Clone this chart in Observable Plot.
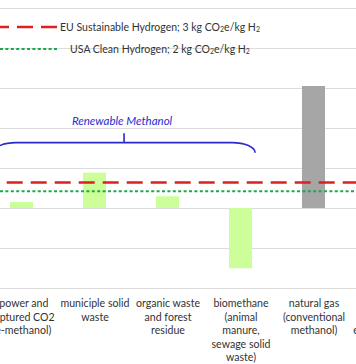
<!DOCTYPE html>
<html><head><meta charset="utf-8">
<script src="https://cdn.jsdelivr.net/npm/d3@7"></script>
<script src="https://cdn.jsdelivr.net/npm/@observablehq/plot@0.6"></script>
<style>
body{margin:0;background:#fff;}
#wrap{position:relative;width:356px;height:364px;overflow:hidden;font-family:Lato,sans-serif;}
#legend{position:absolute;left:0;top:0;width:356px;height:70px;pointer-events:none;}
.legtext{position:absolute;left:160px;transform:translate(-50%,-50%);white-space:nowrap;font-size:10.5px;color:#333;}
.legtext sub{font-size:7px;vertical-align:-1px;line-height:0;}
</style></head><body>
<div id="wrap"><div id="chart"></div><div id="legend"></div></div>
<script>
// categories (the 6th is only partly visible at the right edge)
const categories = ["e-methanol", "municipal", "organic", "biomethane", "natural gas", "grid"];
const tickLabels = [
  "wind power and" + "\u00a0".repeat(8) + "\ncaptured CO2\n(e-methanol)",
  "municiple solid\nwaste",
  "organic waste\nand forest\nresidue",
  "biomethane\n(animal\nmanure,\nsewage solid\nwaste)",
  "natural gas\n(conventional\nmethanol)",
  "grid power\n(electrolysis,\nelectricity mix)"
];
// emissions (axis units hidden by the crop)
const barCategories = ["e-methanol", "municipal", "organic", "biomethane", "natural gas"];
const barValues = [4.5, 26.5, 8.8, -45.2, 91.5];
const barGroups = ["renewable", "renewable", "renewable", "renewable", "fossil"];
const yTicks = [-60, -30, 0, 30, 60, 90, 120, 150];
const euThreshold = [19.5];
const usaThreshold = [13];
const legendLabels = [
  "EU Sustainable Hydrogen; 3 kg CO<sub>2</sub>e/kg H<sub>2</sub>",
  "USA Clean Hydrogen; 2 kg CO<sub>2</sub>e/kg H<sub>2</sub>"
];
const braceLabel = "Renewable Methanol";
const braceLevel = 49, braceEnd = 41.5, braceTop = 56, braceLabelLevel = 64.5;

const data = barCategories.map((c, i) => ({category: c, value: barValues[i], group: barGroups[i]}));
const labelOf = new Map(categories.map((c, i) => [c, tickLabels[i]]));

const RED = "#dd2020", GREEN = "#1fa84a", BLUE = "#2b2bcc";

function brace(index, scales) {
  const x = scales.x, y = scales.y;
  const bw = x.bandwidth ? x.bandwidth() : 0;
  const step = x.step ? x.step() : 0;
  const L = x(categories[0]) + bw / 2 - 0.39 * step;
  const R = x(categories[3]) + bw / 2 + 0.2 * step;
  const mid = (L + R) / 2;
  const yH = y(braceLevel), yE = y(braceEnd), yT = y(braceTop);
  const rx = 23, ry = yE - yH;
  const g = d3.create("svg:g");
  g.append("path")
    .attr("d", `M${L},${yE}A${rx},${ry} 0 0 1 ${L + rx},${yH}H${R - rx}A${rx},${ry} 0 0 1 ${R},${yE}M${mid},${yH}V${yT}`)
    .attr("fill", "none").attr("stroke", BLUE).attr("stroke-width", 1.6);
  g.append("text")
    .attr("x", mid - 2).attr("y", y(braceLabelLevel))
    .attr("text-anchor", "middle").attr("dominant-baseline", "middle")
    .attr("font-style", "italic").attr("font-size", 11.5).attr("fill", BLUE)
    .text(braceLabel);
  return g.node();
}

const chart = Plot.plot({
  width: 356, height: 364,
  marginLeft: 0, marginRight: 0, marginTop: 8, marginBottom: 76,
  style: {fontFamily: "Lato, sans-serif", fontSize: "10.5px", color: "#333", background: "transparent"},
  x: {domain: categories, range: [-40.1, 448.6], padding: 0.685, label: null},
  y: {domain: [-60, 150], label: null},
  color: {domain: ["renewable", "fossil"], range: ["#ccff99", "#a6a6a6"]},
  marks: [
    Plot.gridY(yTicks, {stroke: "#dcdcdc", strokeOpacity: 1, strokeWidth: 1}),
    Plot.barY(data, {x: "category", y: "value", fill: "group"}),
    Plot.ruleY(euThreshold, {stroke: RED, strokeWidth: 2.6, strokeDasharray: "16,8", strokeDashoffset: 17.3}),
    Plot.ruleY(usaThreshold, {stroke: GREEN, strokeWidth: 2, strokeDasharray: "3,2.4"}),
    brace,
    Plot.axisX({tickSize: 0, tickPadding: 9.5, tickFormat: d => labelOf.get(d), fontSize: 10.6, lineHeight: 1.26, fill: "#333"})
  ]
});
document.getElementById("chart").append(chart);

// legend overlaid on the top of the plot area
const leg = d3.select("#legend");
const sw = leg.append("svg").attr("width", 356).attr("height", 70).style("position", "absolute").style("left", 0).style("top", 0);
sw.append("line").attr("x1", 0).attr("x2", 58).attr("y1", 27).attr("y2", 27)
  .attr("stroke", RED).attr("stroke-width", 2.6).attr("stroke-dasharray", "16,8").attr("stroke-dashoffset", 7);
sw.append("line").attr("x1", 0).attr("x2", 57).attr("y1", 49).attr("y2", 49)
  .attr("stroke", GREEN).attr("stroke-width", 2).attr("stroke-dasharray", "3,2.4");
[27, 49].forEach((top, i) => {
  leg.append("div").attr("class", "legtext").style("top", top + "px").html(legendLabels[i]);
});
</script>
</body></html>
